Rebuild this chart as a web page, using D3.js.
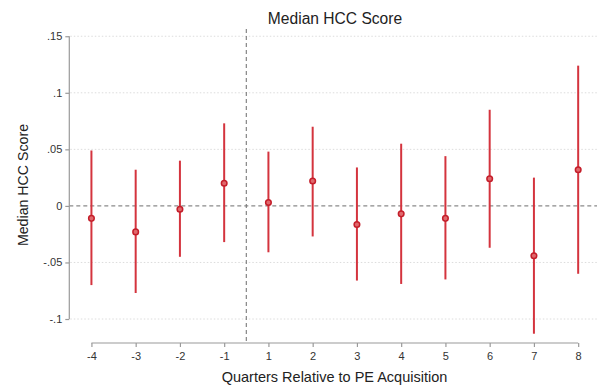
<!DOCTYPE html>
<html>
<head>
<meta charset="utf-8">
<script src="https://cdn.jsdelivr.net/npm/d3@7"></script>
<style>
  html, body { margin: 0; padding: 0; background: #fff; }
  svg { display: block; font-family: "Liberation Sans", Arial, sans-serif; }
</style>
</head>
<body>
<svg id="chart" width="597" height="389"></svg>
<script>
// Event-study estimates of the median HCC score by quarter
const quarters = ["-4", "-3", "-2", "-1", "1", "2", "3", "4", "5", "6", "7", "8"];
const estimate = [-0.011, -0.023, -0.003, 0.020, 0.003, 0.022, -0.0165, -0.007, -0.011, 0.024, -0.044, 0.032];
const ciLow    = [-0.070, -0.077, -0.045, -0.032, -0.041, -0.027, -0.066, -0.069, -0.065, -0.037, -0.113, -0.060];
const ciHigh   = [0.049, 0.032, 0.040, 0.073, 0.048, 0.070, 0.034, 0.055, 0.044, 0.085, 0.025, 0.124];
const yTicks = [-0.1, -0.05, 0, 0.05, 0.1, 0.15];
const yTickLabels = ["-.1", "-.05", "0", ".05", ".1", ".15"];

const svg = d3.select("#chart");
const plot = { left: 69.3, right: 600.3, top: 29, bottom: 343 };

const x = d3.scaleLinear().domain([-0.5, quarters.length - 0.5]).range([plot.left, plot.right]);
const y = d3.scaleLinear().domain([-0.1212, 0.1564]).range([plot.bottom, plot.top]);

const red = "#d4343e";
const axisGrey = "#9a9a9a";

// light dotted grid lines
svg.append("g").selectAll("line")
  .data(yTicks.filter(v => v !== 0))
  .join("line")
  .attr("x1", plot.left + 1).attr("x2", plot.right)
  .attr("y1", d => y(d)).attr("y2", d => y(d))
  .attr("stroke", "#dcdcdc").attr("stroke-width", 1)
  .attr("stroke-dasharray", "1.5,2");

// reference line at zero
svg.append("line")
  .attr("x1", plot.left).attr("x2", plot.right)
  .attr("y1", y(0)).attr("y2", y(0))
  .attr("stroke", "#8a8a8a").attr("stroke-width", 1.1)
  .attr("stroke-dasharray", "4,3");

// acquisition marker between quarter -1 and quarter 1
svg.append("line")
  .attr("x1", x(3.5)).attr("x2", x(3.5))
  .attr("y1", plot.top).attr("y2", plot.bottom)
  .attr("stroke", "#7a7a7a").attr("stroke-width", 1.1)
  .attr("stroke-dasharray", "4,3");

// y axis
const yAxis = d3.axisLeft(y)
  .tickValues(yTicks)
  .tickFormat((d, i) => yTickLabels[i])
  .tickSize(4).tickPadding(3);
const gy = svg.append("g").attr("transform", `translate(${plot.left},0)`).call(yAxis);
gy.select(".domain").remove();
gy.append("line")
  .attr("x1", 0).attr("x2", 0)
  .attr("y1", y(0.15)).attr("y2", y(-0.1))
  .attr("stroke", axisGrey).attr("stroke-width", 1.2);
gy.selectAll(".tick line").attr("stroke", axisGrey).attr("stroke-width", 1.2);
gy.selectAll(".tick text").attr("fill", "#333").style("font-size", "11px")
  .style("font-family", "'Liberation Sans', Arial, sans-serif");

// x axis
const xAxis = d3.axisBottom(x)
  .tickValues(d3.range(quarters.length))
  .tickFormat(i => quarters[i])
  .tickSize(4).tickPadding(5);
const gx = svg.append("g").attr("transform", `translate(0,${plot.bottom})`).call(xAxis);
gx.select(".domain").remove();
gx.append("line")
  .attr("x1", x(0)).attr("x2", x(quarters.length - 1))
  .attr("y1", 0).attr("y2", 0)
  .attr("stroke", axisGrey).attr("stroke-width", 1.2);
gx.selectAll(".tick line").attr("stroke", axisGrey).attr("stroke-width", 1.2);
gx.selectAll(".tick text").attr("fill", "#333").style("font-size", "11px")
  .style("font-family", "'Liberation Sans', Arial, sans-serif");

// confidence intervals
svg.append("g").selectAll("line")
  .data(quarters.map((q, i) => i))
  .join("line")
  .attr("x1", i => x(i)).attr("x2", i => x(i))
  .attr("y1", i => y(ciLow[i])).attr("y2", i => y(ciHigh[i]))
  .attr("stroke", red).attr("stroke-width", 2);

// point estimates
svg.append("g").selectAll("circle")
  .data(quarters.map((q, i) => i))
  .join("circle")
  .attr("cx", i => x(i)).attr("cy", i => y(estimate[i]))
  .attr("r", 2.8)
  .attr("fill", "#e0686c")
  .attr("stroke", "#c41e2a").attr("stroke-width", 1.5);

// titles
svg.append("text")
  .attr("x", 335).attr("y", 23.5)
  .attr("text-anchor", "middle")
  .attr("fill", "#222").style("font-size", "15.6px")
  .text("Median HCC Score");

svg.append("text")
  .attr("transform", "translate(28,185) rotate(-90)")
  .attr("text-anchor", "middle")
  .attr("fill", "#222").style("font-size", "14.2px")
  .text("Median HCC Score");

svg.append("text")
  .attr("x", 334.5).attr("y", 382)
  .attr("text-anchor", "middle")
  .attr("fill", "#222").style("font-size", "14.5px")
  .text("Quarters Relative to PE Acquisition");
</script>
</body>
</html>
